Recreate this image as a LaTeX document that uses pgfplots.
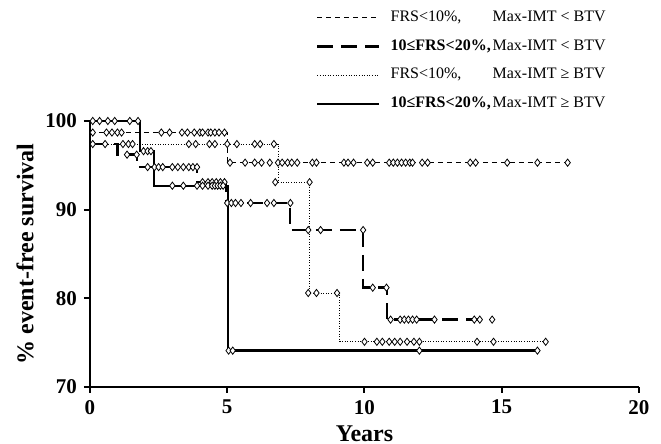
\documentclass[border=0pt]{standalone}
\usepackage{fontspec}
\setmainfont{Liberation Serif}
\usepackage{pgfplots}
\pgfplotsset{compat=1.18}

\begin{document}
\begin{tikzpicture}
\useasboundingbox (-45pt,-28.5pt) rectangle (285.5pt,193.5pt);
\begin{axis}[
    at={(0pt,0pt)}, anchor=origin,
    scale only axis,
    width=274.5pt, height=133pt,
    xmin=0, xmax=20, ymin=70, ymax=100,
    xtick={0,5,10,15,20}, ytick={70,80,90,100},
    axis lines=left,
    axis line style={-, line width=1.1pt},
    tick align=outside, major tick length=3pt,
    tick style={line width=1pt, black},
    ticklabel style={font=\fontsize{10.5}{12}\selectfont\bfseries},
    /pgf/number format/assume math mode=true,
    xlabel={Years}, ylabel={\% event-free survival},
    label style={font=\fontsize{12}{14}\selectfont\bfseries},
    xlabel style={yshift=1pt},
    ylabel style={yshift=-1pt},
    clip=false,
    legend style={at={(0.411,1.43)}, anchor=north west, draw=none, fill=none,
        font=\fontsize{8}{10}\selectfont, row sep=3.5pt, inner sep=0pt},
    legend cell align=left,
    legend image code/.code={\draw[#1] (0pt,0pt) -- (31pt,0pt);},
    mymark/.style={only marks, mark=diamond*, mark size=1.8pt,
        mark options={fill=white, draw=black, line width=0.4pt, solid}, forget plot},
]
% FRS<10%, Max-IMT < BTV
\addplot[const plot, black, line width=0.5pt, dash pattern=on 2.5pt off 2pt] coordinates {
    (0,98.7) (5.0,95.3) (17.45,95.3)
};
\addlegendentry{\hspace{3pt}\makebox[51pt][l]{FRS<10\%,}Max-IMT < BTV}
% 10<=FRS<20%, Max-IMT < BTV
\addplot[const plot, black, line width=1.3pt, dash pattern=on 8pt off 4pt] coordinates {
    (0,97.4) (1.0,96.2) (1.71,94.8) (3.9,93.1) (4.95,90.75) (7.29,87.7)
    (9.95,81.2) (10.82,77.6) (14.65,77.6)
};
\addlegendentry{\hspace{3pt}\makebox[51pt][l]{\bfseries 10≤FRS<20\%,}Max-IMT < BTV}
% FRS<10%, Max-IMT >= BTV
\addplot[const plot, black, line width=0.5pt, dash pattern=on 0.5pt off 0.8pt] coordinates {
    (0,97.4) (6.85,93.1) (8.0,80.6) (9.1,75.1) (16.65,75.1)
};
\addlegendentry{\hspace{3pt}\makebox[51pt][l]{FRS<10\%,}Max-IMT ≥ BTV}
% 10<=FRS<20%, Max-IMT >= BTV
\addplot[const plot, black, line width=1.2pt] coordinates {
    (0,100) (1.82,96.6) (2.33,92.7) (5.03,74.1) (16.3,74.1)
};
\addlegendentry{\hspace{3pt}\makebox[51pt][l]{\bfseries 10≤FRS<20\%,}Max-IMT ≥ BTV}

% censoring marks
\addplot[mymark] coordinates {
    (0.1,98.7) (0.6,98.7) (0.8,98.7) (1.0,98.7) (1.15,98.7) (2.6,98.7) (2.9,98.7)
    (3.35,98.7) (3.55,98.7) (3.8,98.7) (4.0,98.7) (4.1,98.7) (4.3,98.7) (4.4,98.7)
    (4.55,98.7) (4.7,98.7) (4.9,98.7)
    (5.1,95.3) (5.65,95.3) (6.0,95.3) (6.25,95.3) (6.55,95.3) (6.85,95.3) (7.0,95.3)
    (7.2,95.3) (7.35,95.3) (7.55,95.3) (8.1,95.3) (8.25,95.3) (9.25,95.3) (9.4,95.3)
    (9.6,95.3) (10.1,95.3) (10.3,95.3) (10.9,95.3) (11.05,95.3) (11.2,95.3) (11.35,95.3)
    (11.5,95.3) (11.65,95.3) (11.75,95.3) (12.1,95.3) (12.3,95.3) (13.85,95.3)
    (14.05,95.3) (15.2,95.3) (16.3,95.3) (17.4,95.3)
};
\addplot[mymark] coordinates {
    (1.35,96.2) (1.7,96.2)
    (2.1,94.8) (2.35,94.8) (2.5,94.8) (2.65,94.8) (3.0,94.8) (3.2,94.8) (3.4,94.8)
    (3.6,94.8) (3.75,94.8) (3.9,94.8)
    (4.1,93.1) (4.3,93.1) (4.45,93.1) (4.6,93.1) (4.75,93.1) (4.9,93.1)
    (5.0,90.75) (5.15,90.75) (5.3,90.75) (5.5,90.75) (5.85,90.75) (6.45,90.75)
    (6.7,90.75) (7.3,90.75)
    (7.95,87.7) (8.4,87.7) (9.95,87.7)
    (10.3,81.2) (10.8,81.2)
    (10.95,77.6) (11.3,77.6) (11.45,77.6) (11.6,77.6) (11.75,77.6) (11.9,77.6)
    (12.55,77.6) (14.0,77.6) (14.2,77.6) (14.65,77.6)
};
\addplot[mymark] coordinates {
    (0.1,97.4) (0.55,97.4) (1.2,97.4) (1.4,97.4) (1.55,97.4) (3.6,97.4) (3.85,97.4)
    (4.35,97.4) (4.55,97.4) (5.0,97.4) (5.35,97.4) (6.0,97.4) (6.2,97.4) (6.7,97.4)
    (6.75,93.1) (8.0,93.1)
    (7.95,80.6) (8.25,80.6) (9.0,80.6)
    (10.0,75.1) (10.45,75.1) (10.65,75.1) (10.9,75.1) (11.1,75.1) (11.3,75.1)
    (11.55,75.1) (11.8,75.1) (12.0,75.1) (14.1,75.1) (14.7,75.1) (16.6,75.1)
};
\addplot[mymark] coordinates {
    (0.1,100) (0.35,100) (0.65,100) (0.9,100) (1.45,100) (1.75,100)
    (1.95,96.6) (2.1,96.6) (2.22,96.6)
    (3.0,92.7) (3.4,92.7) (3.9,92.7) (4.1,92.7) (4.3,92.7) (4.45,92.7) (4.55,92.7)
    (4.65,92.7) (4.75,92.7) (4.85,92.7)
    (5.05,74.1) (5.2,74.1) (12.0,74.1) (16.3,74.1)
};
\end{axis}
\end{tikzpicture}
\end{document}
